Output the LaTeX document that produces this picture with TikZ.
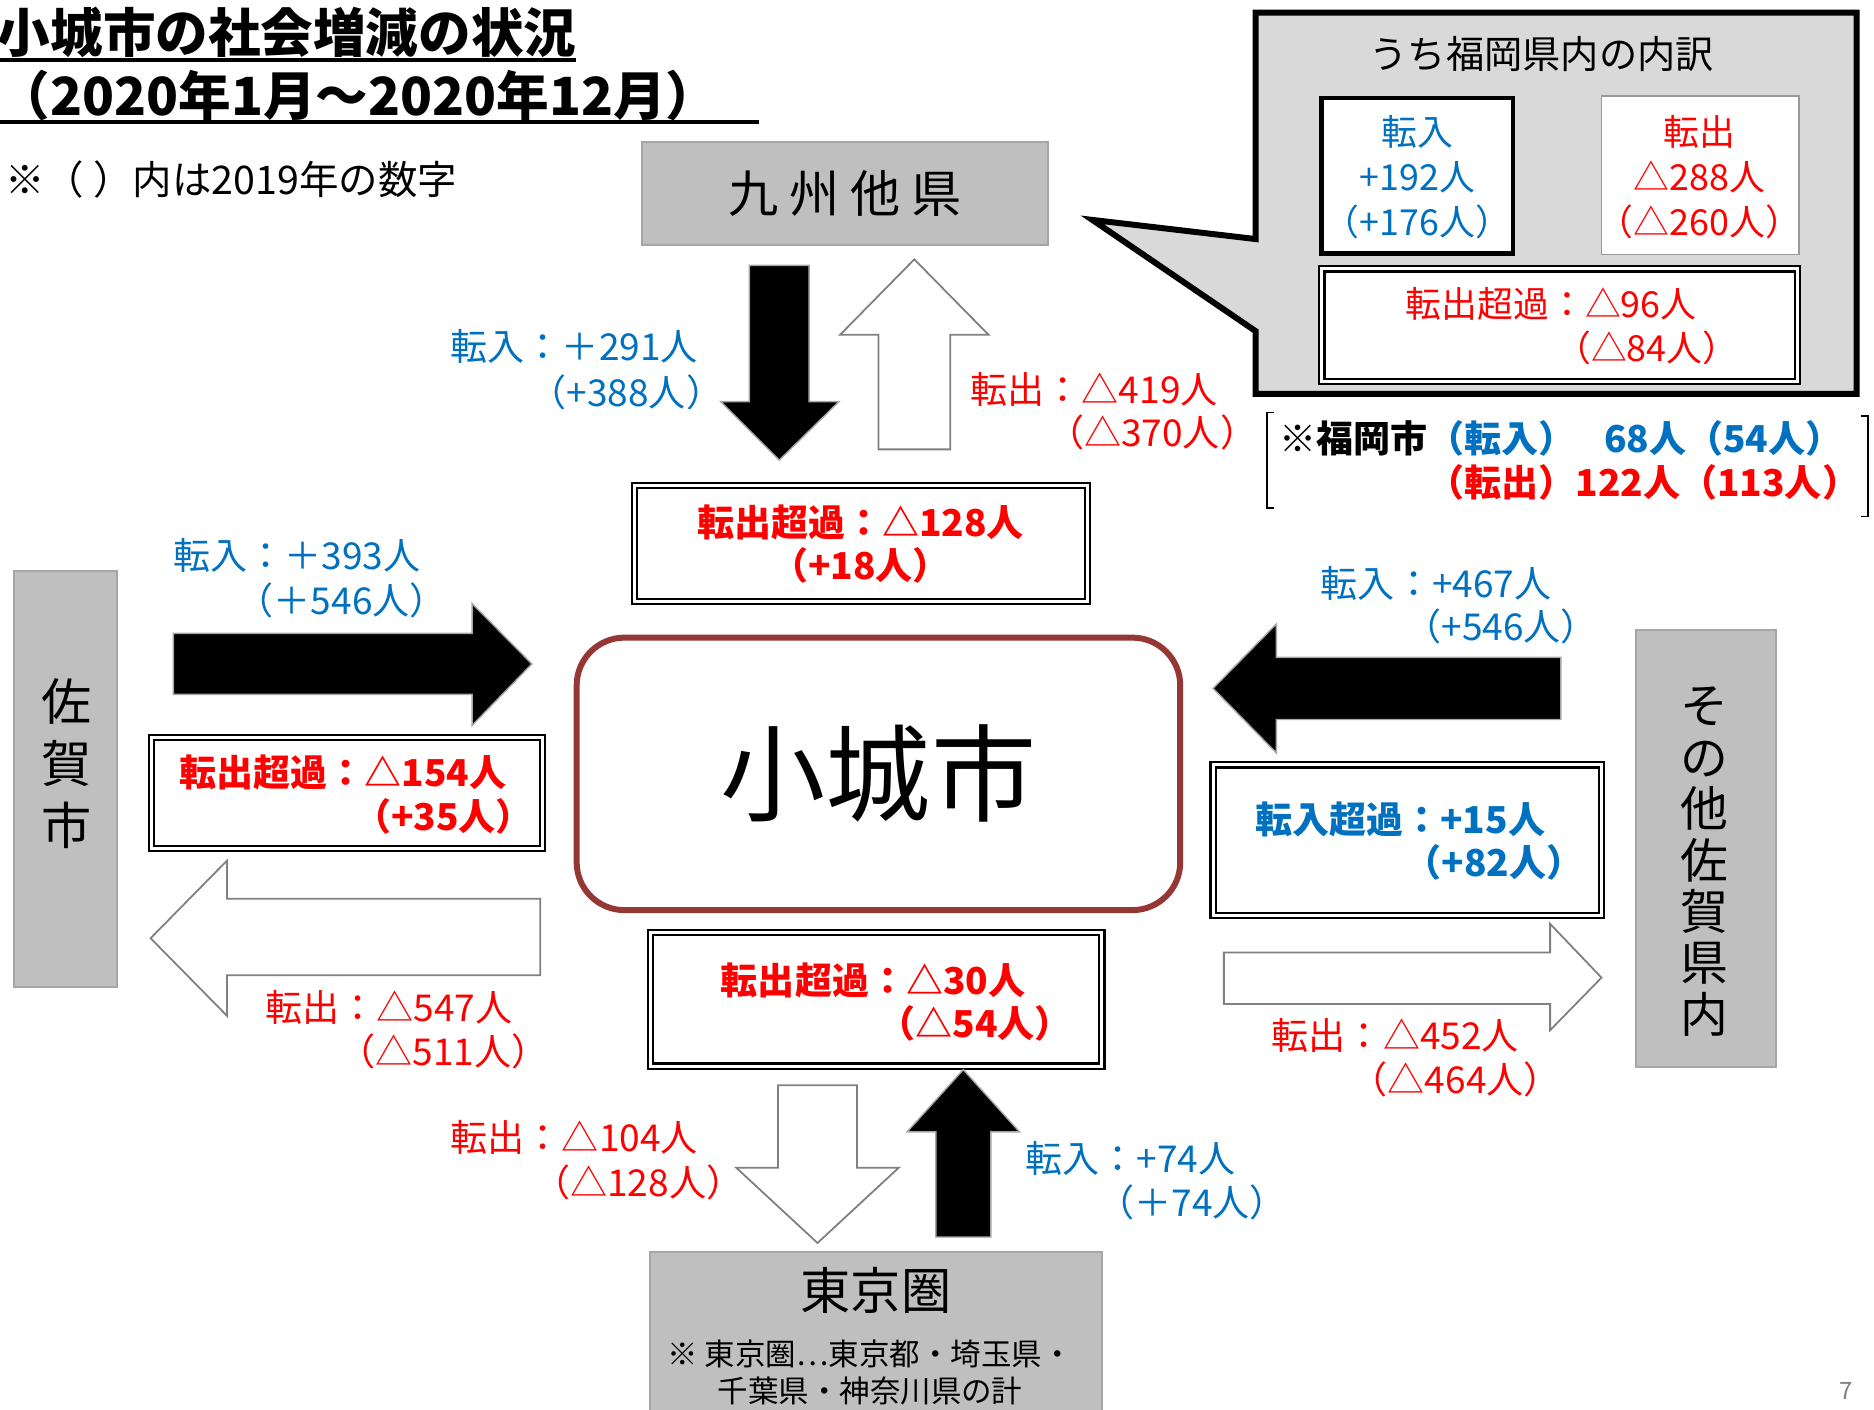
\documentclass[tikz,border=0pt]{standalone}
\usepackage{fontspec}
\setmainfont{Noto Sans CJK JP}
\definecolor{jblue}{HTML}{0070C0}
\definecolor{jred}{HTML}{FF0000}
\definecolor{gfill}{HTML}{BFBFBF}
\definecolor{gbd}{HTML}{A6A6A6}
\definecolor{cfill}{HTML}{D9D9D9}
\definecolor{cityred}{HTML}{953735}
\begin{document}
\begin{tikzpicture}[x=1pt,y=-1pt,
  lab/.style={inner sep=0pt, anchor=west, font=\fontsize{31}{37}\selectfont},
  blab/.style={inner sep=0pt, anchor=west, font=\fontsize{31}{37}\selectfont\bfseries},
  inc/.style={text=jblue}, outc/.style={text=jred},
  gbox/.style={draw=gbd, fill=gfill, line width=1.5pt, inner sep=0pt},
  dbox/.style={draw=black, line width=1.8pt, double=white, double distance=2.5pt, inner sep=0pt, fill=white},
  blk/.style={fill=black, draw=gray!70, line width=1.2pt, line join=miter},
  wht/.style={fill=white, draw=gray, line width=1.5pt, line join=miter},
]
\useasboundingbox (0,0) rectangle (1568,1179);
\clip (0,0) rectangle (1568,1179);

% title
\node[inner sep=0pt, anchor=west, font=\fontsize{44}{50}\selectfont\bfseries] (t1) at (-2,27) {小城市の社会増減の状況};
\node[inner sep=0pt, anchor=west, font=\fontsize{44}{50}\selectfont\bfseries] (t2) at (-2,80) {（2020年1月～2020年12月）};
\draw[line width=3pt] (0,50) -- (482,50);
\draw[line width=3pt] (0,102) -- (635,102);
\node[inner sep=0pt, anchor=west, font=\fontsize{33}{38}\selectfont] (note) at (4,150) {※（\hspace{8pt}）内は2019年の数字};

% callout
\draw[fill=cfill, line width=5pt, line join=miter] (1050.5,10.5) -- (1553.5,10.5) -- (1553.5,329.5) -- (1050.5,329.5) -- (1050.5,277) -- (914,184) -- (1050.5,200) -- cycle;
\node[font=\fontsize{32}{38}\selectfont, inner sep=0pt] (ctitle) at (1290,45) {うち福岡県内の内訳};
\node[draw=black, line width=4pt, fill=white, minimum width=160pt, minimum height=130pt, inner sep=0pt] (fin) at (1186,147) {};
\node[align=center, font=\fontsize{30}{37.5}\selectfont, text=jblue, inner sep=0pt] (fint) at (1186,148) {転入\\+192人\\（+176人）};
\node[draw=gray!80, line width=1.5pt, fill=white, minimum width=165pt, minimum height=133pt, inner sep=0pt] (fout) at (1422.5,146.5) {};
\node[align=center, font=\fontsize{30}{37.5}\selectfont, text=jred, inner sep=0pt] (foutt) at (1422,148) {転出\\△288人\\（△260人）};
\node[dbox, minimum width=398pt, minimum height=94pt] (fex) at (1305,272) {};
\node[lab, outc, font=\fontsize{30}{36}\selectfont] (fex1) at (1176,254) {転出超過：△96人};
\node[lab, outc, font=\fontsize{30}{36}\selectfont] (fex2) at (1301,291) {（△84人）};

% bracket note
\draw[line width=1.2pt] (1066,345) -- (1060,345) -- (1060,425) -- (1066,425);
\draw[line width=1.2pt] (1557,348) -- (1563,348) -- (1563,432) -- (1557,432);
\node[blab, font=\fontsize{31}{36}\selectfont\bfseries] (fk1) at (1070,367) {※福岡市\textcolor{jblue}{（転入）\hspace{24pt}68人（54人）}};
\node[blab, outc, font=\fontsize{31}{36}\selectfont\bfseries] (fk2) at (1194,404) {（転出）122人（113人）};

% Kyushu
\node[gbox, minimum width=340pt, minimum height=86pt, font=\fontsize{42}{48}\selectfont] (kyu) at (707,162) {九\hspace{9pt}州\hspace{9pt}他\hspace{9pt}県};
\draw[blk] (627,222) -- (677,222) -- (677,336) -- (702,336) -- (652,385) -- (603,336) -- (627,336) -- cycle;
\draw[wht] (735,376) -- (795,376) -- (795,280) -- (827,280) -- (765,217) -- (703,280) -- (735,280) -- cycle;
\node[lab, inc] (k1) at (377,290) {転入：＋291人};
\node[lab, inc] (k2) at (443,328) {（+388人）};
\node[lab, outc] (k3) at (812,326) {転出：△419人};
\node[lab, outc] (k4) at (876,362) {（△370人）};
\node[dbox, minimum width=379pt, minimum height=97pt] (kex) at (720.5,454.5) {};
\node[inner sep=0pt, outc, font=\fontsize{31}{37}\selectfont\bfseries] (kex1) at (720,437) {転出超過：△128人};
\node[inner sep=0pt, outc, font=\fontsize{31}{37}\selectfont\bfseries] (kex2) at (720,473) {（+18人）};

% city
\node[draw=cityred, line width=5pt, rounded corners=40pt, fill=white, minimum width=505pt, minimum height=228pt, font=\fontsize{88}{96}\selectfont] (city) at (735,647.5) {小城市};

% Saga
\node[gbox, minimum width=86pt, minimum height=348pt] (saga) at (55,652) {};
\node[font=\fontsize{42}{52}\selectfont, align=center, inner sep=0pt] (sagat) at (56,639) {佐\\賀\\市};
\draw[blk] (145,530) -- (395,530) -- (395,505) -- (445,555.5) -- (395,607) -- (395,581) -- (145,581) -- cycle;
\draw[wht] (452,752) -- (190,752) -- (190,720) -- (126,785) -- (190,850) -- (190,816) -- (452,816) -- cycle;
\node[lab, inc] (s1) at (145,465) {転入：＋393人};
\node[lab, inc] (s2) at (198,502) {（＋546人）};
\node[lab, outc] (s3) at (222,843) {転出：△547人};
\node[lab, outc] (s4) at (283,880) {（△511人）};
\node[dbox, minimum width=327pt, minimum height=93pt] (sex) at (290.5,663.5) {};
\node[blab, outc] (sex1) at (150,646) {転出超過：△154人};
\node[blab, outc] (sex2) at (296,683) {（+35人）};

% other Saga
\node[gbox, minimum width=117pt, minimum height=366pt] (oth) at (1427.5,710) {};
\node[font=\fontsize{40}{43}\selectfont, align=center, inner sep=0pt] (otht) at (1426,721) {そ\\の\\他\\佐\\賀\\県\\内};
\draw[blk] (1306,550) -- (1068,550) -- (1068,522) -- (1015,576) -- (1068,630) -- (1068,602) -- (1306,602) -- cycle;
\draw[wht] (1024,797) -- (1297,797) -- (1297,773) -- (1340,818) -- (1297,862) -- (1297,840) -- (1024,840) -- cycle;
\node[lab, inc] (o1) at (1105,488) {転入：+467人};
\node[lab, inc] (o2) at (1175,524) {（+546人）};
\node[lab, outc] (o3) at (1064,866) {転出：△452人};
\node[lab, outc] (o4) at (1130,903) {（△464人）};
\node[dbox, minimum width=325pt, minimum height=126pt] (oex) at (1177.5,703) {};
\node[blab, inc] (oex1) at (1050,686) {転入超過：+15人};
\node[blab, inc] (oex2) at (1175,722) {（+82人）};

% Tokyo
\node[dbox, minimum width=378pt, minimum height=112pt] (tex) at (733,836) {};
\node[blab, outc] (tex1) at (603,820) {転出超過：△30人};
\node[blab, outc] (tex2) at (735,856) {（△54人）};
\draw[wht] (651,908) -- (717,908) -- (717,977) -- (752,977) -- (684,1040) -- (616,977) -- (651,977) -- cycle;
\draw[blk] (783,1035) -- (829,1035) -- (829,947) -- (853,947) -- (806,895) -- (759,947) -- (783,947) -- cycle;
\node[lab, outc] (tk1) at (377,952) {転出：△104人};
\node[lab, outc] (tk2) at (446,989) {（△128人）};
\node[lab, inc] (tk3) at (858,969) {転入：+74人};
\node[lab, inc] (tk4) at (918,1006) {（＋74人）};
\node[gbox, minimum width=378pt, minimum height=160pt, anchor=north] (tokyo) at (733,1047) {};
\node[font=\fontsize{42}{48}\selectfont, inner sep=0pt] (tokyot) at (733,1080) {東京圏};
\node[font=\fontsize{25.5}{31}\selectfont, align=center, inner sep=0pt] (tokyon) at (728,1148) {※ 東京圏⋯東京都・埼玉県・\\千葉県・神奈川県の計};

\node[text=gray, font=\fontsize{20}{22}\selectfont, inner sep=0pt] (pg) at (1545,1164) {7};
\end{tikzpicture}
\end{document}
